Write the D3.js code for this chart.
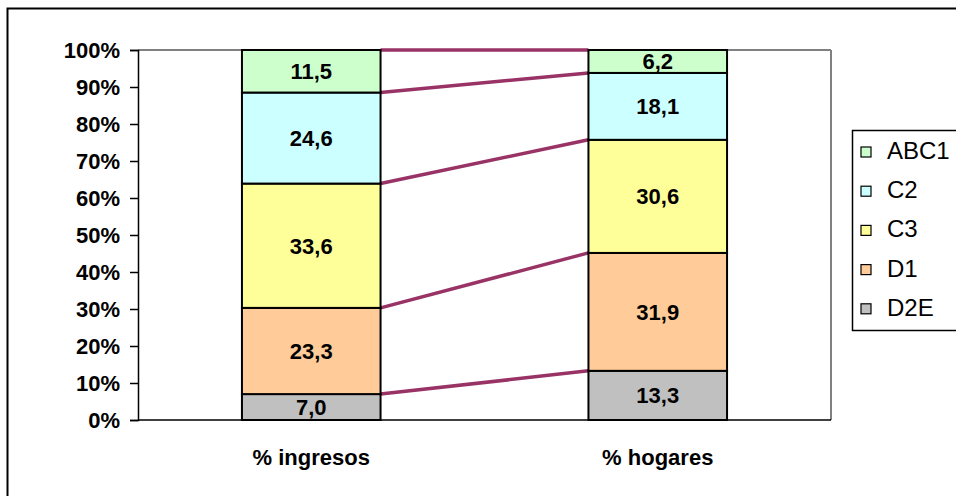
<!DOCTYPE html>
<html>
<head>
<meta charset="utf-8">
<script src="https://cdn.jsdelivr.net/npm/d3@7"></script>
<style>
  body { margin: 0; background: #fff; }
  svg text { font-family: "Liberation Sans", Arial, sans-serif; fill: #000; }
  .tick-label { font-size: 22px; font-weight: bold; }
  .cat-label { font-size: 22px; font-weight: bold; }
  .value-label { font-size: 22px; font-weight: bold; }
  .legend-label { font-size: 24px; }
</style>
</head>
<body>
<div id="vis"></div>
<script>
'use strict';

//categories on the x axis
var categories = ['% ingresos', '% hogares'];
//series, bottom to top of the stack
var series = ['D2E', 'D1', 'C3', 'C2', 'ABC1'];
var colors = ['#c0c0c0', '#ffcc99', '#ffff99', '#ccffff', '#ccffcc'];
//one value per category, same order as categories
var values = {
    D2E: [7.0, 13.3],
    D1: [23.3, 31.9],
    C3: [33.6, 30.6],
    C2: [24.6, 18.1],
    ABC1: [11.5, 6.2]
};
var yTicks = [0, 10, 20, 30, 40, 50, 60, 70, 80, 90, 100];

var W = 956, H = 496;
var plot = { left: 138, top: 50, right: 831, bottom: 420 };

var svg = d3.select('#vis').append('svg')
    .attr('width', W)
    .attr('height', H);

//outer chart border (right and bottom are cut off in the picture)
svg.append('rect')
    .attr('x', 7.5).attr('y', 8.5)
    .attr('width', W + 10).attr('height', H + 10)
    .attr('fill', '#fff')
    .attr('stroke', '#000')
    .attr('stroke-width', 2);

var x = d3.scaleBand()
    .domain(categories)
    .range([plot.left, plot.right])
    .paddingInner(0.6)
    .paddingOuter(0.3);

var y = d3.scaleLinear()
    .domain([0, 100])
    .range([plot.bottom, plot.top]);

//normalise to 100% per category
var rows = categories.map(function (c, i) {
    var row = { cat: c };
    var total = d3.sum(series, function (s) { return values[s][i]; });
    series.forEach(function (s) { row[s] = values[s][i] / total * 100; row['raw_' + s] = values[s][i]; });
    return row;
});
var stacked = d3.stack().keys(series)(rows);

//plot area frame
svg.append('line')
    .attr('x1', plot.left).attr('x2', plot.right)
    .attr('y1', plot.top).attr('y2', plot.top)
    .attr('stroke', '#808080').attr('stroke-width', 2);
svg.append('line')
    .attr('x1', plot.right).attr('x2', plot.right)
    .attr('y1', plot.top).attr('y2', plot.bottom)
    .attr('stroke', '#808080').attr('stroke-width', 2);

//y axis
var yAxis = svg.append('g')
    .attr('transform', 'translate(' + plot.left + ',0)')
    .call(d3.axisLeft(y).tickValues(yTicks).tickSize(8).tickPadding(10)
        .tickFormat(function (d) { return d + '%'; }));
yAxis.select('.domain').attr('stroke', '#000').attr('stroke-width', 1.5);
yAxis.selectAll('.tick line').attr('stroke', '#000').attr('stroke-width', 1.5);
yAxis.selectAll('.tick text')
    .attr('class', 'tick-label')
    .attr('dy', '0.36em')
    .attr('fill', '#000');
yAxis.attr('font-size', null).attr('font-family', null);

//x axis line
svg.append('line')
    .attr('x1', plot.left).attr('x2', plot.right)
    .attr('y1', plot.bottom).attr('y2', plot.bottom)
    .attr('stroke', '#000').attr('stroke-width', 1.5);

//series lines between the bars: join the top of each segment
var bw = x.bandwidth();
stacked.forEach(function (layer) {
    svg.append('line')
        .attr('x1', x(categories[0]) + bw)
        .attr('x2', x(categories[1]))
        .attr('y1', y(layer[0][1]))
        .attr('y2', y(layer[1][1]))
        .attr('stroke', '#993366')
        .attr('stroke-width', 3.5);
});

//bars
stacked.forEach(function (layer, k) {
    svg.selectAll('.bar-' + k)
        .data(layer)
        .enter().append('rect')
        .attr('x', function (d) { return x(d.data.cat); })
        .attr('y', function (d) { return y(d[1]); })
        .attr('width', bw)
        .attr('height', function (d) { return y(d[0]) - y(d[1]); })
        .attr('fill', colors[k])
        .attr('stroke', '#000')
        .attr('stroke-width', 2);
});

//value labels
stacked.forEach(function (layer, k) {
    svg.selectAll('.val-' + k)
        .data(layer)
        .enter().append('text')
        .attr('class', 'value-label')
        .attr('x', function (d) { return x(d.data.cat) + bw / 2; })
        .attr('y', function (d) { return y((d[0] + d[1]) / 2); })
        .attr('dy', '0.36em')
        .attr('text-anchor', 'middle')
        .text(function (d) { return d.data['raw_' + series[k]].toFixed(1).replace('.', ','); });
});

//category labels
svg.selectAll('.cat')
    .data(categories)
    .enter().append('text')
    .attr('class', 'cat-label')
    .attr('x', function (d) { return x(d) + bw / 2; })
    .attr('y', 465)
    .attr('text-anchor', 'middle')
    .text(function (d) { return d; });

//legend, top to bottom
var legend = svg.append('g').attr('transform', 'translate(852,130)');
legend.append('rect')
    .attr('x', 0.5).attr('y', 0.5)
    .attr('width', 120).attr('height', 200)
    .attr('fill', '#fff')
    .attr('stroke', '#000')
    .attr('stroke-width', 1.5);
var legendOrder = series.slice().reverse();
legendOrder.forEach(function (s, i) {
    var k = series.indexOf(s);
    var cy = 22 + i * 39.2;
    legend.append('rect')
        .attr('x', 9).attr('y', cy - 5)
        .attr('width', 10).attr('height', 10)
        .attr('fill', colors[k])
        .attr('stroke', '#000')
        .attr('stroke-width', 1.2);
    legend.append('text')
        .attr('class', 'legend-label')
        .attr('x', 35)
        .attr('y', cy + 7)
        .text(s);
});
</script>
</body>
</html>
